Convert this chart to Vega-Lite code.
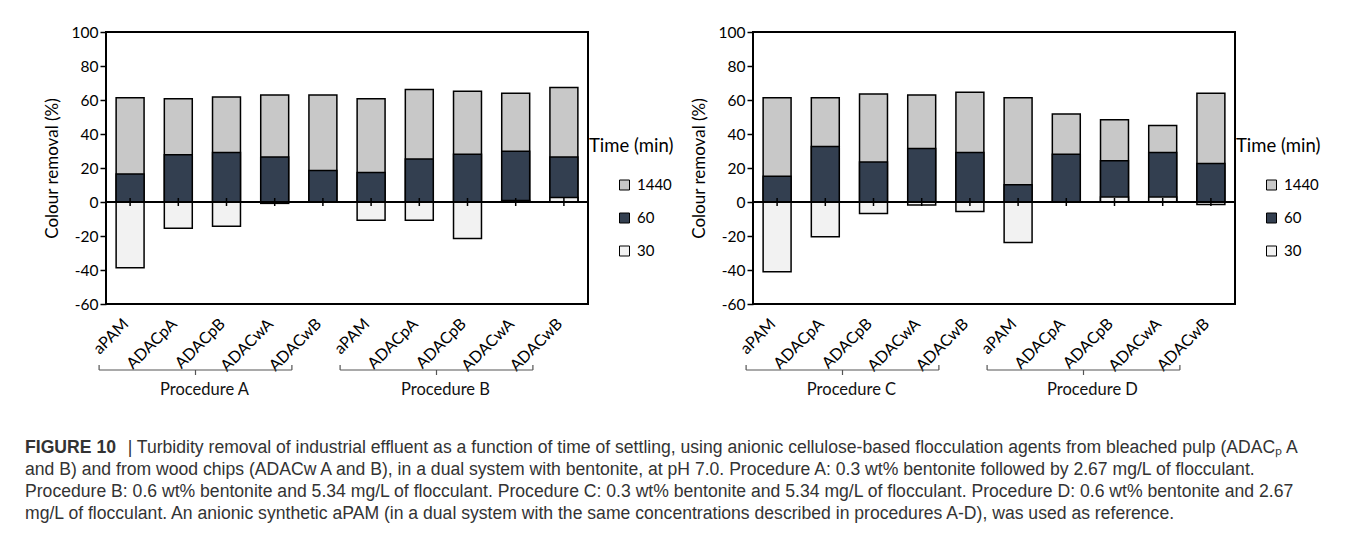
{
  "$schema": "https://vega.github.io/schema/vega-lite/v6.json",
  "background": "white",
  "padding": {"top": 24, "left": 25, "right": 0, "bottom": 0},
  "config": {
    "font": "Lato",
    "view": {"stroke": "#000", "strokeWidth": 2},
    "axis": {"labelColor": "#000", "labelFontSize": 15.5, "titleColor": "#000", "titleFontWeight": "normal", "titleFontSize": 17, "grid": false, "domain": false, "tickColor": "#000", "tickWidth": 1.5, "labelOverlap": false},
    "axisY": {"labelOverlap": false, "labelBound": false},
    "axisQuantitative": {"labelOverlap": false},
    "legend": {"orient": "none", "legendX": 483, "legendY": 105, "titleFontSize": 18.5, "titleFontWeight": "normal", "titleColor": "#000", "labelFontSize": 15, "labelColor": "#000", "symbolType": "square", "symbolSize": 100, "symbolStrokeColor": "#000", "symbolStrokeWidth": 1, "symbolOffset": 28, "labelOffset": 5, "rowPadding": 17, "titlePadding": 22, "padding": 0}
  },
  "title": {
    "text": "FIGURE 10",
    "subtitle": [
      "\u200b\u00a0\u00a0\u00a0\u00a0\u00a0\u00a0\u00a0\u00a0\u00a0\u00a0\u00a0\u00a0\u00a0\u00a0\u00a0\u00a0\u00a0\u00a0\u00a0\u00a0\u00a0| Turbidity removal of industrial effluent as a function of time of settling, using anionic cellulose-based flocculation agents from bleached pulp (ADACₚ A",
      "and B) and from wood chips (ADACw A and B), in a dual system with bentonite, at pH 7.0. Procedure A: 0.3 wt% bentonite followed by 2.67 mg/L of flocculant.",
      "Procedure B: 0.6 wt% bentonite and 5.34 mg/L of flocculant. Procedure C: 0.3 wt% bentonite and 5.34 mg/L of flocculant. Procedure D: 0.6 wt% bentonite and 2.67",
      "mg/L of flocculant. An anionic synthetic aPAM (in a dual system with the same concentrations described in procedures A-D), was used as reference."
    ],
    "orient": "bottom",
    "anchor": "start",
    "offset": 39,
    "dx": -17,
    "font": "Liberation Sans",
    "fontSize": 17.6,
    "fontWeight": "bold",
    "color": "#333",
    "subtitleFont": "Liberation Sans",
    "subtitleFontSize": 17.6,
    "subtitleFontWeight": "normal",
    "subtitleColor": "#333",
    "subtitleLineHeight": 22,
    "subtitlePadding": -17.6
  },
  "datasets": {
    "p1": [
      {"id": "A|aPAM", "time": "1440", "value": 61.3},
      {"id": "A|ADACpA", "time": "1440", "value": 60.7},
      {"id": "A|ADACpB", "time": "1440", "value": 61.8},
      {"id": "A|ADACwA", "time": "1440", "value": 62.9},
      {"id": "A|ADACwB", "time": "1440", "value": 62.9},
      {"id": "B|aPAM", "time": "1440", "value": 60.7},
      {"id": "B|ADACpA", "time": "1440", "value": 66.2},
      {"id": "B|ADACpB", "time": "1440", "value": 65.1},
      {"id": "B|ADACwA", "time": "1440", "value": 63.9},
      {"id": "B|ADACwB", "time": "1440", "value": 67.4},
      {"id": "A|aPAM", "time": "60", "value": 16.5},
      {"id": "A|ADACpA", "time": "60", "value": 27.8},
      {"id": "A|ADACpB", "time": "60", "value": 29.1},
      {"id": "A|ADACwA", "time": "60", "value": 26.5},
      {"id": "A|ADACwB", "time": "60", "value": 18.5},
      {"id": "B|aPAM", "time": "60", "value": 17.3},
      {"id": "B|ADACpA", "time": "60", "value": 25.3},
      {"id": "B|ADACpB", "time": "60", "value": 28.1},
      {"id": "B|ADACwA", "time": "60", "value": 29.9},
      {"id": "B|ADACwB", "time": "60", "value": 26.5},
      {"id": "A|aPAM", "time": "30", "value": -38.7},
      {"id": "A|ADACpA", "time": "30", "value": -15.5},
      {"id": "A|ADACpB", "time": "30", "value": -14.3},
      {"id": "A|ADACwA", "time": "30", "value": -0.8},
      {"id": "A|ADACwB", "time": "30", "value": 0},
      {"id": "B|aPAM", "time": "30", "value": -10.8},
      {"id": "B|ADACpA", "time": "30", "value": -10.8},
      {"id": "B|ADACpB", "time": "30", "value": -21.4},
      {"id": "B|ADACwA", "time": "30", "value": 0.9},
      {"id": "B|ADACwB", "time": "30", "value": 2.6}
    ],
    "p2": [
      {"id": "C|aPAM", "time": "1440", "value": 61.3},
      {"id": "C|ADACpA", "time": "1440", "value": 61.3},
      {"id": "C|ADACpB", "time": "1440", "value": 63.5},
      {"id": "C|ADACwA", "time": "1440", "value": 62.9},
      {"id": "C|ADACwB", "time": "1440", "value": 64.6},
      {"id": "D|aPAM", "time": "1440", "value": 61.3},
      {"id": "D|ADACpA", "time": "1440", "value": 51.7},
      {"id": "D|ADACpB", "time": "1440", "value": 48.4},
      {"id": "D|ADACwA", "time": "1440", "value": 45.0},
      {"id": "D|ADACwB", "time": "1440", "value": 63.9},
      {"id": "C|aPAM", "time": "60", "value": 15.1},
      {"id": "C|ADACpA", "time": "60", "value": 32.6},
      {"id": "C|ADACpB", "time": "60", "value": 23.6},
      {"id": "C|ADACwA", "time": "60", "value": 31.4},
      {"id": "C|ADACwB", "time": "60", "value": 29.1},
      {"id": "D|aPAM", "time": "60", "value": 10.2},
      {"id": "D|ADACpA", "time": "60", "value": 28.1},
      {"id": "D|ADACpB", "time": "60", "value": 24.2},
      {"id": "D|ADACwA", "time": "60", "value": 29.1},
      {"id": "D|ADACwB", "time": "60", "value": 22.6},
      {"id": "C|aPAM", "time": "30", "value": -41.1},
      {"id": "C|ADACpA", "time": "30", "value": -20.4},
      {"id": "C|ADACpB", "time": "30", "value": -6.8},
      {"id": "C|ADACwA", "time": "30", "value": -1.8},
      {"id": "C|ADACwB", "time": "30", "value": -5.6},
      {"id": "D|aPAM", "time": "30", "value": -23.8},
      {"id": "D|ADACpA", "time": "30", "value": 0},
      {"id": "D|ADACpB", "time": "30", "value": 3.0},
      {"id": "D|ADACwA", "time": "30", "value": 3.0},
      {"id": "D|ADACwB", "time": "30", "value": -1.4}
    ],
    "g1": [
      {"label": "Procedure A", "first": "A|aPAM", "mid": "A|ADACpB", "last": "A|ADACwB"},
      {"label": "Procedure B", "first": "B|aPAM", "mid": "B|ADACpB", "last": "B|ADACwB"}
    ],
    "g2": [
      {"label": "Procedure C", "first": "C|aPAM", "mid": "C|ADACpB", "last": "C|ADACwB"},
      {"label": "Procedure D", "first": "D|aPAM", "mid": "D|ADACpB", "last": "D|ADACwB"}
    ]
  },
  "resolve": {"scale": {"x": "independent", "y": "independent", "color": "independent"}, "legend": {"color": "independent"}},
  "spacing": 14,
  "hconcat": [
    {
      "width": 482,
      "height": 272,
      "layer": [
        {
          "data": {"name": "p1"},
          "mark": {"type": "bar", "stroke": "#000", "strokeWidth": 1.5},
          "encoding": {
            "x": {"field": "id", "type": "nominal", "sort": null, "title": null,
              "scale": {"domain": ["A|aPAM", "A|ADACpA", "A|ADACpB", "A|ADACwA", "A|ADACwB", "B|aPAM", "B|ADACpA", "B|ADACpB", "B|ADACwA", "B|ADACwB"], "paddingInner": 0.42, "paddingOuter": 0.21},
              "axis": {"title": null, "ticks": false, "labelAngle": -45, "labelAlign": "right", "labelBaseline": "middle", "labelPadding": 17, "labelOffset": -4, "labelFontSize": 16, "labelExpr": "split(datum.label, '|')[1]"}},
            "y": {"field": "value", "type": "quantitative", "stack": null,
              "scale": {"domain": [-60, 100], "nice": false},
              "axis": {"title": "Colour removal (%)", "values": [-60, -40, -20, 0, 20, 40, 60, 80, 100], "tickCount": 9, "labelExpr": "datum.value", "labelOverlap": false, "labelBound": false, "labelFlush": false, "tickSize": 6, "titlePadding": 10}},
            "color": {"field": "time", "type": "nominal",
              "scale": {"domain": ["1440", "60", "30"], "range": ["#c8c8c8", "#333f50", "#f2f2f2"]},
              "legend": {"title": "Time (min)"}}
          }
        },
        {
          "data": {"name": "p1"},
          "mark": {"type": "rule", "stroke": "#000", "strokeWidth": 1.5},
          "encoding": {"y": {"datum": 0}}
        },
        {
          "data": {"name": "p1"},
          "transform": [{"filter": "datum.time == '1440'"}],
          "mark": {"type": "rule", "stroke": "#000", "strokeWidth": 1.5, "yOffset": -4, "y2Offset": 4},
          "encoding": {"x": {"field": "id", "type": "nominal", "title": null}, "y": {"datum": 0}, "y2": {"datum": 0}}
        },
        {
          "data": {"name": "g1"},
          "mark": {"type": "rule", "stroke": "#555", "strokeWidth": 1.2, "xOffset": -31, "x2Offset": -31, "yOffset": 66},
          "encoding": {"x": {"field": "first", "type": "nominal", "title": null}, "x2": {"field": "last"}, "y": {"datum": -60}}
        },
        {
          "data": {"name": "g1"},
          "mark": {"type": "rule", "stroke": "#555", "strokeWidth": 1.2, "xOffset": -31, "yOffset": 61, "y2Offset": 66},
          "encoding": {"x": {"field": "first", "type": "nominal", "title": null}, "y": {"datum": -60}, "y2": {"datum": -60}}
        },
        {
          "data": {"name": "g1"},
          "mark": {"type": "rule", "stroke": "#555", "strokeWidth": 1.2, "xOffset": -31, "yOffset": 61, "y2Offset": 66},
          "encoding": {"x": {"field": "last", "type": "nominal", "title": null}, "y": {"datum": -60}, "y2": {"datum": -60}}
        },
        {
          "data": {"name": "g1"},
          "mark": {"type": "rule", "stroke": "#555", "strokeWidth": 1.2, "xOffset": -31, "yOffset": 66, "y2Offset": 71},
          "encoding": {"x": {"field": "mid", "type": "nominal", "title": null}, "y": {"datum": -60}, "y2": {"datum": -60}}
        },
        {
          "data": {"name": "g1"},
          "mark": {"type": "text", "fontSize": 16.5, "color": "#111", "xOffset": -22, "yOffset": 86, "baseline": "middle"},
          "encoding": {"x": {"field": "mid", "type": "nominal", "title": null}, "y": {"datum": -60}, "text": {"field": "label"}}
        }
      ]
    },
    {
      "width": 482,
      "height": 272,
      "layer": [
        {
          "data": {"name": "p2"},
          "mark": {"type": "bar", "stroke": "#000", "strokeWidth": 1.5},
          "encoding": {
            "x": {"field": "id", "type": "nominal", "sort": null, "title": null,
              "scale": {"domain": ["C|aPAM", "C|ADACpA", "C|ADACpB", "C|ADACwA", "C|ADACwB", "D|aPAM", "D|ADACpA", "D|ADACpB", "D|ADACwA", "D|ADACwB"], "paddingInner": 0.42, "paddingOuter": 0.21},
              "axis": {"title": null, "ticks": false, "labelAngle": -45, "labelAlign": "right", "labelBaseline": "middle", "labelPadding": 17, "labelOffset": -4, "labelFontSize": 16, "labelExpr": "split(datum.label, '|')[1]"}},
            "y": {"field": "value", "type": "quantitative", "stack": null,
              "scale": {"domain": [-60, 100], "nice": false},
              "axis": {"title": "Colour removal (%)", "values": [-60, -40, -20, 0, 20, 40, 60, 80, 100], "tickCount": 9, "labelExpr": "datum.value", "labelOverlap": false, "labelBound": false, "labelFlush": false, "tickSize": 6, "titlePadding": 10}},
            "color": {"field": "time", "type": "nominal",
              "scale": {"domain": ["1440", "60", "30"], "range": ["#c8c8c8", "#333f50", "#f2f2f2"]},
              "legend": {"title": "Time (min)"}}
          }
        },
        {
          "data": {"name": "p2"},
          "mark": {"type": "rule", "stroke": "#000", "strokeWidth": 1.5},
          "encoding": {"y": {"datum": 0}}
        },
        {
          "data": {"name": "p2"},
          "transform": [{"filter": "datum.time == '1440'"}],
          "mark": {"type": "rule", "stroke": "#000", "strokeWidth": 1.5, "yOffset": -4, "y2Offset": 4},
          "encoding": {"x": {"field": "id", "type": "nominal", "title": null}, "y": {"datum": 0}, "y2": {"datum": 0}}
        },
        {
          "data": {"name": "g2"},
          "mark": {"type": "rule", "stroke": "#555", "strokeWidth": 1.2, "xOffset": -31, "x2Offset": -31, "yOffset": 66},
          "encoding": {"x": {"field": "first", "type": "nominal", "title": null}, "x2": {"field": "last"}, "y": {"datum": -60}}
        },
        {
          "data": {"name": "g2"},
          "mark": {"type": "rule", "stroke": "#555", "strokeWidth": 1.2, "xOffset": -31, "yOffset": 61, "y2Offset": 66},
          "encoding": {"x": {"field": "first", "type": "nominal", "title": null}, "y": {"datum": -60}, "y2": {"datum": -60}}
        },
        {
          "data": {"name": "g2"},
          "mark": {"type": "rule", "stroke": "#555", "strokeWidth": 1.2, "xOffset": -31, "yOffset": 61, "y2Offset": 66},
          "encoding": {"x": {"field": "last", "type": "nominal", "title": null}, "y": {"datum": -60}, "y2": {"datum": -60}}
        },
        {
          "data": {"name": "g2"},
          "mark": {"type": "rule", "stroke": "#555", "strokeWidth": 1.2, "xOffset": -31, "yOffset": 66, "y2Offset": 71},
          "encoding": {"x": {"field": "mid", "type": "nominal", "title": null}, "y": {"datum": -60}, "y2": {"datum": -60}}
        },
        {
          "data": {"name": "g2"},
          "mark": {"type": "text", "fontSize": 16.5, "color": "#111", "xOffset": -22, "yOffset": 86, "baseline": "middle"},
          "encoding": {"x": {"field": "mid", "type": "nominal", "title": null}, "y": {"datum": -60}, "text": {"field": "label"}}
        }
      ]
    }
  ]
}
